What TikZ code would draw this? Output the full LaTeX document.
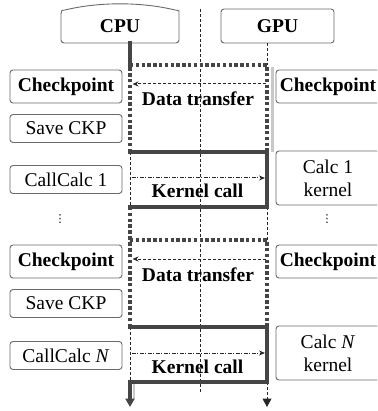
\documentclass[tikz,border=0pt]{standalone}
\usepackage{fontspec}
\setmainfont{Liberation Serif}
\newfontfamily\symfont{DejaVu Sans}
\usetikzlibrary{arrows.meta}
\definecolor{lineg}{HTML}{454545}
\definecolor{boxg}{HTML}{6A6A6A}
\definecolor{shadeg}{HTML}{C8C8C8}
\begin{document}
\begin{tikzpicture}[x=1pt,y=-1pt,
  every node/.style={font=\fontsize{19.5}{23}\selectfont, text=black},
  sidebox/.style={draw=boxg, line width=0.9pt, rounded corners=3pt,
    minimum width=112pt, inner sep=0pt, align=center},
  rbox/.style={sidebox, minimum width=104pt},
  heavy/.style={draw=lineg, line width=3.2pt, line cap=rect},
  heavydash/.style={draw=lineg, line width=3.4pt, dash pattern=on 3.4pt off 2.4pt},
  thindash/.style={draw=black!85, line width=1pt, dash pattern=on 3pt off 2pt},
  thindashdot/.style={draw=black!85, line width=1pt,
    dash pattern=on 4pt off 1.5pt on 1pt off 1.5pt},
  lbl/.style={font=\bfseries\fontsize{19.5}{23}\selectfont, anchor=base},
  dotsnode/.style={font=\symfont\fontsize{11}{13}\selectfont, inner sep=0pt},
  tip/.style={-{Triangle[length=8.5pt,width=9pt]}},
  smalltip/.style={-{Stealth[length=6pt,width=5pt]}}]
\clip (0,0) rectangle (377,411);

% middle separator
\draw[thindash] (200,9) -- (200,393);

% CPU header with a bowed top edge
\draw[draw=boxg, line width=0.9pt, rounded corners=3pt]
  (61,14) -- (61,43) -- (179,43) -- (179,14)
  .. controls (179,11.5) and (178,10.5) .. (175,10)
  .. controls (140,2) and (100,2) .. (65,10)
  .. controls (62,10.5) and (61,11.5) .. (61,14);
\node[font=\bfseries\fontsize{19.5}{23}\selectfont] (cpu) at (120,26) {CPU};
% GPU header
\node[sidebox, minimum width=113pt, minimum height=34pt] (gpu) at (277.5,26)
  {\bfseries GPU};

% lifeline anchor points
\coordinate (cTop) at (130,43);
\coordinate (gTop) at (267,43);
\coordinate (cEnd) at (130,407);
\coordinate (gEnd) at (267,407);
\foreach \k/\o in {1/0,2/175}{
  \coordinate (c\k a) at (130,65+\o);
  \coordinate (g\k a) at (267,65+\o);
  \coordinate (c\k b) at (130,152+\o);
  \coordinate (g\k b) at (267,152+\o);
  \coordinate (c\k c) at (130,207+\o);
  \coordinate (g\k c) at (267,207+\o);
  \coordinate (c\k x) at (132.5,84+\o);
  \coordinate (g\k x) at (265.5,84+\o);
  \coordinate (c\k y) at (131.5,178+\o);
  \coordinate (g\k y) at (265,178+\o);
}

% soft shadows
\draw[shadeg, line width=3pt] (272,67) -- (272,152);
\draw[shadeg, line width=2.5pt] (134,384) -- (134,399);

% lifelines between the phases
\draw[heavy] (cTop) -- (c1a);
\draw[thindash] (gTop) -- (g1a);
\draw[heavydash] (c1c) -- (c2a);
\draw[thindash] (g1c) -- (g2a);
\draw[heavy, tip] (c2c) -- (cEnd);
\draw[thindash, tip] (g2c) -- (gEnd);

% transfer and kernel phases
\foreach \k in {1,2}{
  \draw[heavydash] (c\k b) -- (c\k a) -- (g\k a) -- (g\k b);
  \draw[thindash] (c\k b) -- (c\k c);
  \draw[heavy] (c\k b) -- (g\k b) -- (g\k c) -- (c\k c);
  \draw[thindash, smalltip] (g\k x) -- (c\k x);
  \draw[thindashdot, smalltip] (c\k y) -- (g\k y);
}
\node[lbl] (dt1) at (198,106) {Data transfer};
\node[lbl] (kc1) at (197.5,198) {Kernel call};
\node[lbl] (dt2) at (198,281) {Data transfer};
\node[lbl] (kc2) at (197.5,373) {Kernel call};

% CPU-side steps
\node[sidebox, minimum height=33pt] (ck1) at (66,86.5) {\bfseries Checkpoint};
\node[sidebox, minimum height=28pt] (sv1) at (66,128.5) {Save CKP};
\node[sidebox, minimum height=28pt] (cc1) at (66,179.5) {CallCalc 1};
\node[dotsnode] (ld) at (60,219) {⋮};
\node[sidebox, minimum height=33pt] (ck2) at (66,261.5) {\bfseries Checkpoint};
\node[sidebox, minimum height=28pt] (sv2) at (66,303.5) {Save CKP};
\node[sidebox, minimum height=28pt] (cc2) at (66,355.5) {CallCalc \textit{N}};

% GPU-side steps
\node[rbox, minimum height=33pt] (gk1) at (328,86.5) {\bfseries Checkpoint};
\node[rbox, minimum height=54pt] (kr1) at (328,178) {Calc 1\\kernel};
\node[dotsnode] (rd) at (327,219) {⋮};
\node[rbox, minimum height=33pt] (gk2) at (328,261.5) {\bfseries Checkpoint};
\node[rbox, minimum height=54pt] (kr2) at (328,353) {Calc \textit{N}\\kernel};
\end{tikzpicture}
\end{document}
